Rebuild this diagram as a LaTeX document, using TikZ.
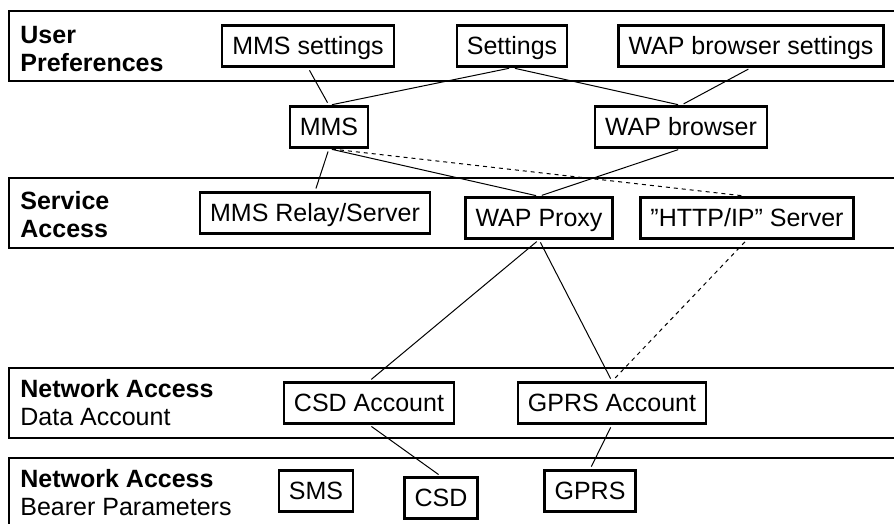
\documentclass[tikz,border=0pt]{standalone}
\usepackage{fontspec}
\setmainfont{Liberation Sans}

\begin{document}
\begin{tikzpicture}[
						x=0.5pt,
						y=-0.5pt,
						font=\fontsize{12.5}{14}\selectfont,
						band/.style={draw, line width=1.4pt},
						layer/.style={anchor=west, align=left, inner sep=0pt},
						box/.style={draw, line width=1.2pt, inner xsep=5pt, minimum height=20.5pt, text height=9pt, text depth=0.5pt},
						link/.style={line width=0.5pt, shorten >=1.5pt, shorten <=1.5pt},
						weak/.style={link, dash pattern=on 2pt off 2pt}
					]
					\useasboundingbox (0,0) rectangle (894,524);
					\draw[band] (894,11) -| (9,81) -- (894,81);
					\draw[band] (894,178) -| (9,248) -- (894,248);
					\draw[band] (894,368) -| (9,438) -- (894,438);
					\draw[band] (894,458) -| (9,524);
					\node[layer] (up) at (20,49) {\textbf{User}\\\textbf{Preferences}};
					\node[layer] (sa) at (20,215) {\textbf{Service}\\\textbf{Access}};
					\node[layer] (da) at (20,403) {\textbf{Network Access}\\Data Account};
					\node[layer] (bp) at (20,493) {\textbf{Network Access}\\Bearer Parameters};
					\node[box] (mmsset) at (308,46) {MMS settings};
					\node[box] (set) at (512,46) {Settings};
					\node[box] (wapset) at (751,46) {WAP browser settings};
					\node[box] (mms) at (329,127) {MMS};
					\node[box] (wap) at (681,127) {WAP browser};
					\node[box] (relay) at (315,213) {MMS Relay/Server};
					\node[box] (proxy) at (539,218) {WAP Proxy};
					\node[box] (http) at (747,218) {''HTTP/IP'' Server};
					\node[box] (csdacc) at (369,403) {CSD Account};
					\node[box] (gprsacc) at (612,403) {GPRS Account};
					\node[box] (sms) at (316,491) {SMS};
					\node[box] (csd) at (441,498) {CSD};
					\node[box] (gprs) at (590,491) {GPRS};
					\draw[link] (mmsset.south) -- (mms.north);
					\draw[link] (set.south) -- (mms.north);
					\draw[link] (set.south) -- (wap.north);
					\draw[link] (wapset.south) -- (wap.north);
					\draw[link] (mms.south) -- (relay.north);
					\draw[link] (mms.south) -- (proxy.north);
					\draw[weak] (mms.south) -- (http.north);
					\draw[link] (wap.south) -- (proxy.north);
					\draw[link] (proxy.south) -- (csdacc.north);
					\draw[link] (proxy.south) -- (gprsacc.north);
					\draw[weak] (http.south) -- (gprsacc.north);
					\draw[link] (csdacc.south) -- (csd.north);
					\draw[link] (gprsacc.south) -- (gprs.north);
				\end{tikzpicture}
\end{document}
